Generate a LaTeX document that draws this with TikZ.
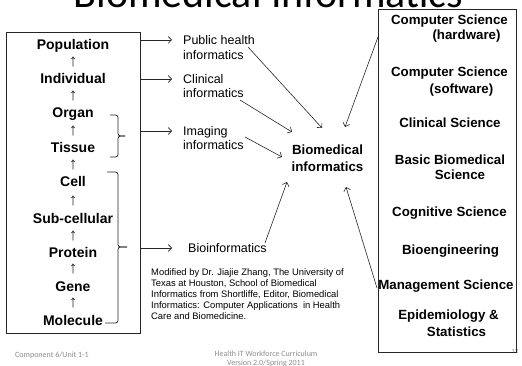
\documentclass[tikz,border=0pt]{standalone}
\usepackage{fontspec}
\setmainfont{Liberation Sans}
\newfontfamily\calib{Carlito}
\usetikzlibrary{arrows.meta}
\begin{document}
\begin{tikzpicture}[x=1pt,y=-1pt,
  lbl/.style={font=\fontsize{14}{16}\selectfont\bfseries, inner sep=0pt, text height=10pt, text depth=0pt},
  rlbl/.style={font=\fontsize{13.3}{15}\selectfont\bfseries, inner sep=0pt, text height=9.5pt, text depth=0pt},
  mlbl/.style={font=\fontsize{12.5}{14}\selectfont, inner sep=0pt, text height=9pt, text depth=0pt, anchor=west},
  uparr/.style={font=\fontsize{17}{19}\selectfont, inner sep=0pt, text=black!85},
  arr/.style={draw=black!85, line width=0.6pt, -{Straight Barb[length=3.5pt,width=7pt]}},
  boxed/.style={draw=black!85, line width=0.9pt, inner sep=0pt},
  brk/.style={draw=black!85, line width=0.7pt, rounded corners=2.5pt},
  foot/.style={font=\calib\fontsize{8}{10}\selectfont, text=black!45, inner sep=0pt}
]
\useasboundingbox (0,0) rectangle (522,366);
\clip (0,0) rectangle (522,366);

% title (cut off at the top)
\node[font=\calib\fontsize{42}{44}\selectfont, anchor=base, inner sep=0pt, text depth=0pt] (title) at (268.5,8) {Biomedical Informatics};

% page number (behind box corner)
\node[foot, font=\calib\fontsize{6.5}{8}\selectfont] (pg) at (515,351) {12};

% boxes
\node[boxed, minimum width=134pt, minimum height=301pt] (lb) at (73,182.5) {};
\node[boxed, minimum width=138pt, minimum height=343pt] (rb) at (447,180.5) {};

% left column
\node[lbl] (pop) at (73,45) {Population};
\node[uparr] (u1) at (73,62) {↑};
\node[lbl] (ind) at (73,79) {Individual};
\node[uparr] (u2) at (73,96) {↑};
\node[lbl] (org) at (73,113) {Organ};
\node[uparr] (u3) at (73,130.5) {↑};
\node[lbl] (tis) at (73,148) {Tissue};
\node[uparr] (u4) at (73,165) {↑};
\node[lbl] (cell) at (73,182) {Cell};
\node[uparr] (u5) at (73,200.5) {↑};
\node[lbl] (sub) at (73,219) {Sub-cellular};
\node[uparr] (u6) at (73,236) {↑};
\node[lbl] (prot) at (73,252) {Protein};
\node[uparr] (u7) at (73,269) {↑};
\node[lbl] (gene) at (73,286) {Gene};
\node[uparr] (u8) at (73,303) {↑};
\node[lbl] (mol) at (73,320) {Molecule};

% brackets
\draw[brk] (110,115) -- (118,115) -- (118,136) -- (125,136);
\draw[brk] (125,136) -- (118,136) -- (118,157) -- (110,157);
\coordinate (tip1) at (125,136);
\draw[brk] (107,172) -- (118,172) -- (118,247) -- (127,247);
\draw[brk] (127,247) -- (118,247) -- (118,323) -- (105,323);
\coordinate (tip2) at (127,247);

% middle labels
\node[mlbl] (ph1) at (183,40) {Public health};
\node[mlbl] (ph2) at (183,55) {informatics};
\node[mlbl] (cl1) at (183,79) {Clinical};
\node[mlbl] (cl2) at (183,93) {informatics};
\node[mlbl] (im1) at (183,131) {Imaging};
\node[mlbl] (im2) at (183,145) {informatics};
\node[mlbl] (bio) at (188,248) {Bioinformatics};

\draw[arr, shorten >=11pt] (ph1.west -| lb.east) -- (ph1.west);
\draw[arr, shorten >=11pt] (cl1.west -| lb.east) -- (cl1.west);
\draw[arr, shorten >=11pt] (im1.west -| lb.east) -- (im1.west);
\draw[arr, shorten >=16pt] (bio.west -| lb.east) -- (bio.west);

% central node
\node[font=\fontsize{13.3}{17}\selectfont\bfseries, align=center, inner sep=0pt] (bm) at (327.5,158.5) {Biomedical\\informatics};

% right box labels
\node[rlbl] (cs1) at (449.5,20) {Computer Science};
\node[rlbl] (hw) at (466.5,35) {(hardware)};
\node[rlbl] (cs2) at (449.5,72) {Computer Science};
\node[rlbl] (sw) at (461.5,89) {(software)};
\node[rlbl] (clin) at (450,123) {Clinical Science};
\node[rlbl] (bb1) at (450,160) {Basic Biomedical};
\node[rlbl] (bb2) at (460,175) {Science};
\node[rlbl] (cog) at (449.5,212) {Cognitive Science};
\node[rlbl] (bioe) at (450.5,250) {Bioengineering};
\node[rlbl] (mgmt) at (446,285) {Management Science};
\node[rlbl] (epi1) at (448.5,315) {Epidemiology \&};
\node[rlbl] (epi2) at (456.5,332) {Statistics};

% arrow end points around the central node
\coordinate (sPH) at (248,47);  \coordinate (ePH) at (322,128);
\coordinate (sCL) at (240,100); \coordinate (eCL) at (292,132);
\coordinate (sIM) at (245,137); \coordinate (eIM) at (282,157);
\coordinate (sHW) at (378,37);  \coordinate (eHW) at (345,127);
\coordinate (sBI) at (265,243); \coordinate (eBI) at (287,182);
\coordinate (sMG) at (377,288); \coordinate (eMG) at (346,187);

\draw[arr] (sPH) -- (ePH);
\draw[arr] (sCL) -- (eCL);
\draw[arr] (sIM) -- (eIM);
\draw[arr] (sHW) -- (eHW);
\draw[arr] (sBI) -- (eBI);
\draw[arr] (sMG) -- (eMG);

% credit text
\node[font=\fontsize{9.4}{10.9}\selectfont, align=left, anchor=north west, inner sep=0pt] (credit) at (151,268.5)
 {Modified by Dr. Jiajie Zhang, The University of\\ Texas at Houston, School of Biomedical\\ Informatics from Shortliffe, Editor, Biomedical\\ Informatics: Computer Applications\ \ in Health\\ Care and Biomedicine.};

% footer
\node[foot, anchor=west] (comp) at (15,355) {Component 6/Unit 1-1};
\node[foot] (hit) at (266,354) {Health IT Workforce Curriculum};
\node[foot] (ver) at (266,363) {Version 2.0/Spring 2011};
\end{tikzpicture}
\end{document}
